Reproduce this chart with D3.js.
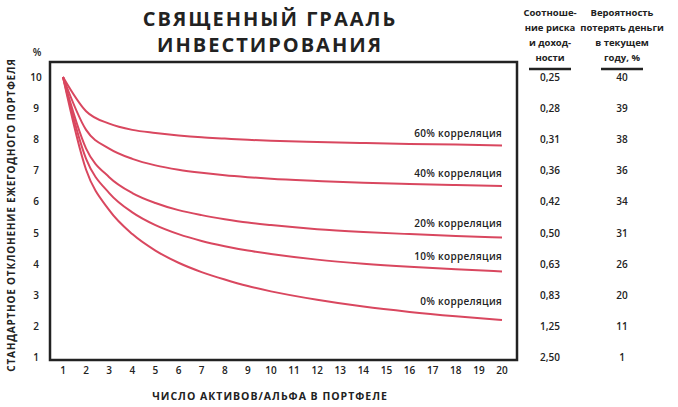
<!DOCTYPE html>
<html><head><meta charset="utf-8">
<script src="https://cdn.jsdelivr.net/npm/d3@7"></script>
<style>
body{margin:0;background:#fff;font-family:"Open Sans",sans-serif;}
text{fill:#222;}
</style></head><body>
<svg id="chart" width="678" height="407"></svg>
<script>
// data
const xs = [1,2,3,4,5,6,7,8,9,10,12,14,16,18,20];
const corr60 = [10,8.9,8.5,8.3,8.2,8.12,8.06,8.02,7.98,7.95,7.91,7.88,7.85,7.83,7.8];
const corr40 = [10,8.3,7.7,7.37,7.16,7.02,6.92,6.84,6.78,6.73,6.66,6.6,6.56,6.53,6.5];
const corr20 = [10,7.7,6.78,6.27,5.95,5.72,5.56,5.43,5.32,5.24,5.11,5.02,4.95,4.89,4.84];
const corr10 = [10,7.37,6.27,5.65,5.24,4.95,4.73,4.56,4.42,4.31,4.13,4.0,3.9,3.82,3.75];
const corr0  = [10,7.02,5.72,4.95,4.42,4.03,3.73,3.49,3.28,3.11,2.84,2.62,2.45,2.31,2.19];
const seriesNames = ["60% корреляция","40% корреляция","20% корреляция","10% корреляция","0% корреляция"];
const xTicks = d3.range(1,21);
const yTicks = d3.range(1,11);
const ratio = ["2,50","1,25","0,83","0,63","0,50","0,42","0,36","0,31","0,28","0,25"];
const lossProb = ["1","11","20","26","31","34","36","38","39","40"];

const svg = d3.select('#chart');
const x = d3.scaleLinear().domain([1,20]).range([63,502]);
const y = d3.scaleLinear().domain([1,10]).range([357,77]);
const red = '#d9475f';

// title
svg.append('text').attr('x',270).attr('y',26).attr('text-anchor','middle')
	.style('font-size','20px').style('font-weight','bold').style('letter-spacing','2px').text('СВЯЩЕННЫЙ ГРААЛЬ');
svg.append('text').attr('x',270).attr('y',52).attr('text-anchor','middle')
	.style('font-size','20px').style('font-weight','bold').style('letter-spacing','2px').text('ИНВЕСТИРОВАНИЯ');

// frame
svg.append('rect').attr('x',50).attr('y',62).attr('width',467).attr('height',298)
	.attr('fill','none').attr('stroke','#222').attr('stroke-width',2.5);

// axes
svg.append('g').selectAll('text').data(yTicks).join('text')
	.attr('x',36).attr('y',d=>y(d)+4).attr('text-anchor','middle')
	.style('font-size','10px').style('font-weight','600').text(d=>d);
svg.append('text').attr('x',37).attr('y',56).attr('text-anchor','middle')
	.style('font-size','10px').style('font-weight','600').text('%');
svg.append('g').selectAll('text').data(xTicks).join('text')
	.attr('x',d=>x(d)).attr('y',374).attr('text-anchor','middle')
	.style('font-size','10px').style('font-weight','600').text(d=>d);
svg.append('text').attr('x',270).attr('y',400).attr('text-anchor','middle')
	.style('font-size','10.5px').style('font-weight','bold').style('letter-spacing','1px')
	.text('ЧИСЛО АКТИВОВ/АЛЬФА В ПОРТФЕЛЕ');
svg.append('text').attr('transform','translate(15,215) rotate(-90)').attr('text-anchor','middle')
	.style('font-size','10px').style('font-weight','bold').style('letter-spacing','0.8px')
	.text('СТАНДАРТНОЕ ОТКЛОНЕНИЕ ЕЖЕГОДНОГО ПОРТФЕЛЯ');

// curves
const line = d3.line().x((d,i)=>x(xs[i])).y(d=>y(d)).curve(d3.curveMonotoneX);
const all = [corr60,corr40,corr20,corr10,corr0];
svg.append('g').selectAll('path').data(all).join('path')
	.attr('d',line).attr('fill','none').attr('stroke',red).attr('stroke-width',2);
svg.append('g').selectAll('text').data(all).join('text')
	.attr('x',x(20)).attr('y',d=>y(d[d.length-3])-7).attr('text-anchor','end')
	.style('font-size','10px').style('font-weight','600').style('letter-spacing','0.3px')
	.text((d,i)=>seriesNames[i]);

// right table
const hdr1 = ['Соотноше-','ние риска','и доход-','ности'];
const hdr2 = ['Вероятность','потерять деньги','в текущем','году, %'];
[[550,hdr1,ratio],[622,hdr2,lossProb]].forEach(([cx,hdr,vals])=>{
	svg.append('g').selectAll('text').data(hdr).join('text')
		.attr('x',cx).attr('y',(d,i)=>16+i*15).attr('text-anchor','middle')
		.style('font-size','9.5px').style('font-weight','bold').text(d=>d);
	svg.append('line').attr('x1',cx-21).attr('x2',cx+21).attr('y1',69).attr('y2',69)
		.attr('stroke','#222').attr('stroke-width',2.5);
	svg.append('g').selectAll('text').data(vals).join('text')
		.attr('x',cx).attr('y',(d,i)=>y(yTicks[i])+4).attr('text-anchor','middle')
		.style('font-size','10px').style('font-weight','600').text(d=>d);
});
</script></body></html>
